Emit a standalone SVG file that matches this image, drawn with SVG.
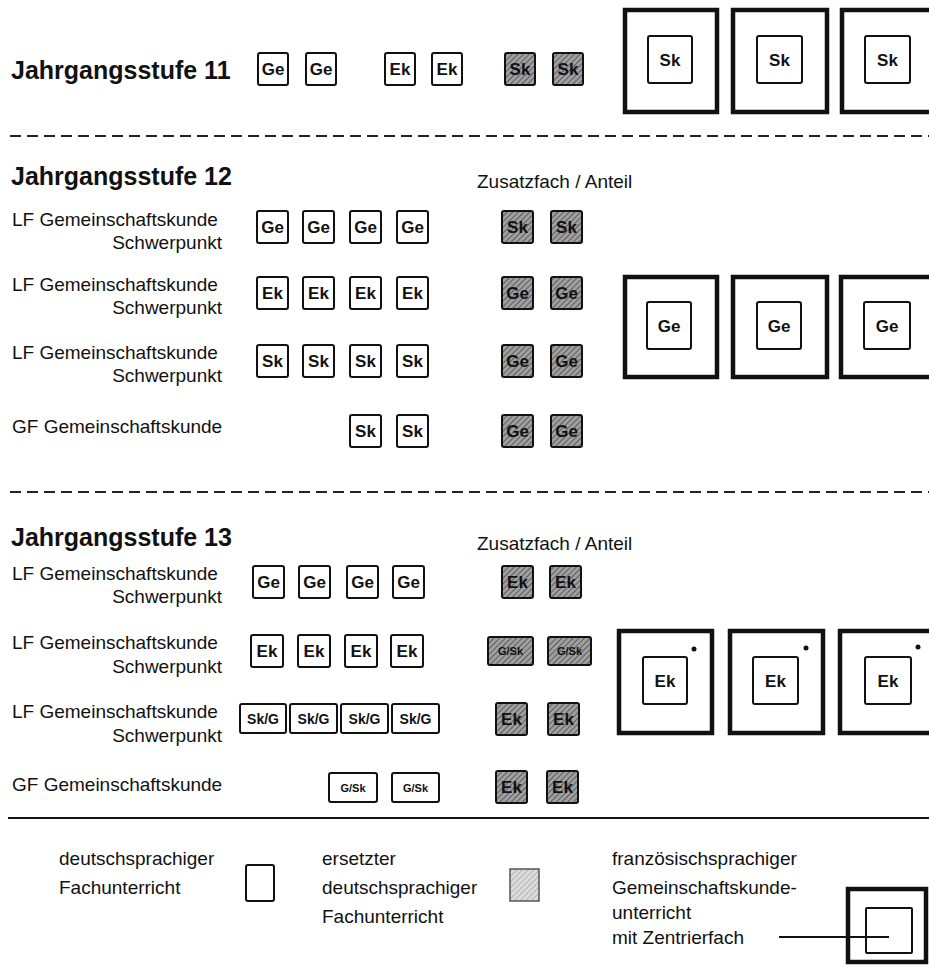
<svg xmlns="http://www.w3.org/2000/svg" width="929" height="978" viewBox="0 0 929 978">
<defs>
<pattern id="hatch" width="4" height="4" patternUnits="userSpaceOnUse" patternTransform="rotate(45)">
<rect width="4" height="4" fill="#a0a0a0"/>
<line x1="0" y1="0" x2="0" y2="4" stroke="#4a4a4a" stroke-width="1.6"/>
</pattern>
<pattern id="hatchL" width="4" height="4" patternUnits="userSpaceOnUse" patternTransform="rotate(45)">
<rect width="4" height="4" fill="#dcdcdc"/>
<line x1="0" y1="0" x2="0" y2="4" stroke="#999" stroke-width="1.2"/>
</pattern>
</defs>
<style>
.t{font-family:"Liberation Sans",Arial,sans-serif;fill:#111}
.h{font-size:25px;font-weight:bold}
.l{font-size:19px}
.r{text-anchor:end}
.b{font-size:17px;font-weight:bold;text-anchor:middle}
.s{font-size:14px;font-weight:bold;text-anchor:middle}
.xs{font-size:11px;font-weight:bold;text-anchor:middle}
.box{fill:#fff;stroke:#111;stroke-width:2}
.g{fill:url(#hatch);stroke:#111;stroke-width:2}
.big{fill:#fff;stroke:#111;stroke-width:4.5}
.in{fill:#fff;stroke:#111;stroke-width:2}
.dash{stroke:#222;stroke-width:2;stroke-dasharray:11 6;fill:none}
.line{stroke:#111;stroke-width:2;fill:none}
</style>
<rect width="929" height="978" fill="#fff"/>

<!-- Jahrgangsstufe 11 -->
<text class="t h" x="11" y="79">Jahrgangsstufe 11</text>
<g id="j11-ge1"><rect class="box" x="258" y="53" width="30" height="32" rx="2"/><text class="t b" x="273" y="75">Ge</text></g>
<g id="j11-ge2"><rect class="box" x="306" y="53" width="30" height="32" rx="2"/><text class="t b" x="321" y="75">Ge</text></g>
<g id="j11-ek1"><rect class="box" x="385" y="53" width="30" height="32" rx="2"/><text class="t b" x="400" y="75">Ek</text></g>
<g id="j11-ek2"><rect class="box" x="432" y="53" width="30" height="32" rx="2"/><text class="t b" x="447" y="75">Ek</text></g>
<g id="j11-sk1"><rect class="g" x="505" y="53" width="30" height="32" rx="2"/><text class="t b" x="520" y="75">Sk</text></g>
<g id="j11-sk2"><rect class="g" x="553" y="53" width="30" height="32" rx="2"/><text class="t b" x="568" y="75">Sk</text></g>
<g id="j11-big1"><rect class="big" x="625" y="10" width="92" height="102"/><rect class="in" x="648" y="36" width="44" height="47" rx="2"/><text class="t b" x="670" y="65.5">Sk</text></g>
<g id="j11-big2"><rect class="big" x="733" y="10" width="94" height="102"/><rect class="in" x="757" y="36" width="45" height="47" rx="2"/><text class="t b" x="779.5" y="65.5">Sk</text></g>
<g id="j11-big3"><rect class="big" x="842" y="10" width="94" height="102"/><rect class="in" x="865" y="36" width="45" height="47" rx="2"/><text class="t b" x="887.5" y="65.5">Sk</text></g>

<line class="dash" x1="10" y1="136" x2="929" y2="136"/>

<!-- Jahrgangsstufe 12 -->
<text class="t h" x="11" y="185">Jahrgangsstufe 12</text>
<text class="t l" x="477" y="188">Zusatzfach / Anteil</text>

<text class="t l" x="12" y="226">LF Gemeinschaftskunde</text>
<text class="t l r" x="222" y="249">Schwerpunkt</text>
<g id="j12-r1-1"><rect class="box" x="257" y="211" width="31" height="32" rx="2"/><text class="t b" x="272.5" y="233">Ge</text></g>
<g id="j12-r1-2"><rect class="box" x="303" y="211" width="31" height="32" rx="2"/><text class="t b" x="318.5" y="233">Ge</text></g>
<g id="j12-r1-3"><rect class="box" x="350" y="211" width="31" height="32" rx="2"/><text class="t b" x="365.5" y="233">Ge</text></g>
<g id="j12-r1-4"><rect class="box" x="397" y="211" width="31" height="32" rx="2"/><text class="t b" x="412.5" y="233">Ge</text></g>
<g id="j12-r1-g1"><rect class="g" x="502" y="211" width="31" height="32" rx="2"/><text class="t b" x="517.5" y="233">Sk</text></g>
<g id="j12-r1-g2"><rect class="g" x="551" y="211" width="31" height="32" rx="2"/><text class="t b" x="566.5" y="233">Sk</text></g>

<text class="t l" x="12" y="291">LF Gemeinschaftskunde</text>
<text class="t l r" x="222" y="314">Schwerpunkt</text>
<g id="j12-r2-1"><rect class="box" x="257" y="277" width="31" height="32" rx="2"/><text class="t b" x="272.5" y="299">Ek</text></g>
<g id="j12-r2-2"><rect class="box" x="303" y="277" width="31" height="32" rx="2"/><text class="t b" x="318.5" y="299">Ek</text></g>
<g id="j12-r2-3"><rect class="box" x="350" y="277" width="31" height="32" rx="2"/><text class="t b" x="365.5" y="299">Ek</text></g>
<g id="j12-r2-4"><rect class="box" x="397" y="277" width="31" height="32" rx="2"/><text class="t b" x="412.5" y="299">Ek</text></g>
<g id="j12-r2-g1"><rect class="g" x="502" y="277" width="31" height="32" rx="2"/><text class="t b" x="517.5" y="299">Ge</text></g>
<g id="j12-r2-g2"><rect class="g" x="551" y="277" width="31" height="32" rx="2"/><text class="t b" x="566.5" y="299">Ge</text></g>

<text class="t l" x="12" y="359">LF Gemeinschaftskunde</text>
<text class="t l r" x="222" y="382">Schwerpunkt</text>
<g id="j12-r3-1"><rect class="box" x="257" y="345" width="31" height="32" rx="2"/><text class="t b" x="272.5" y="367">Sk</text></g>
<g id="j12-r3-2"><rect class="box" x="303" y="345" width="31" height="32" rx="2"/><text class="t b" x="318.5" y="367">Sk</text></g>
<g id="j12-r3-3"><rect class="box" x="350" y="345" width="31" height="32" rx="2"/><text class="t b" x="365.5" y="367">Sk</text></g>
<g id="j12-r3-4"><rect class="box" x="397" y="345" width="31" height="32" rx="2"/><text class="t b" x="412.5" y="367">Sk</text></g>
<g id="j12-r3-g1"><rect class="g" x="502" y="345" width="31" height="32" rx="2"/><text class="t b" x="517.5" y="367">Ge</text></g>
<g id="j12-r3-g2"><rect class="g" x="551" y="345" width="31" height="32" rx="2"/><text class="t b" x="566.5" y="367">Ge</text></g>

<text class="t l" x="12" y="433">GF Gemeinschaftskunde</text>
<g id="j12-gf-1"><rect class="box" x="350" y="415" width="31" height="32" rx="2"/><text class="t b" x="365.5" y="437">Sk</text></g>
<g id="j12-gf-2"><rect class="box" x="397" y="415" width="31" height="32" rx="2"/><text class="t b" x="412.5" y="437">Sk</text></g>
<g id="j12-gf-g1"><rect class="g" x="502" y="415" width="31" height="32" rx="2"/><text class="t b" x="517.5" y="437">Ge</text></g>
<g id="j12-gf-g2"><rect class="g" x="551" y="415" width="31" height="32" rx="2"/><text class="t b" x="566.5" y="437">Ge</text></g>

<g id="j12-big1"><rect class="big" x="625" y="277" width="92" height="100"/><rect class="in" x="647" y="302" width="44" height="47" rx="2"/><text class="t b" x="669" y="331.5">Ge</text></g>
<g id="j12-big2"><rect class="big" x="733" y="277" width="94" height="100"/><rect class="in" x="757" y="302" width="44" height="47" rx="2"/><text class="t b" x="779" y="331.5">Ge</text></g>
<g id="j12-big3"><rect class="big" x="841" y="277" width="95" height="100"/><rect class="in" x="864" y="302" width="46" height="47" rx="2"/><text class="t b" x="887" y="331.5">Ge</text></g>

<line class="dash" x1="10" y1="492" x2="929" y2="492"/>

<!-- Jahrgangsstufe 13 -->
<text class="t h" x="11" y="546">Jahrgangsstufe 13</text>
<text class="t l" x="477" y="550">Zusatzfach / Anteil</text>

<text class="t l" x="12" y="580">LF Gemeinschaftskunde</text>
<text class="t l r" x="222" y="603">Schwerpunkt</text>
<g id="j13-r1-1"><rect class="box" x="253" y="566" width="31" height="32" rx="2"/><text class="t b" x="268.5" y="588">Ge</text></g>
<g id="j13-r1-2"><rect class="box" x="299" y="566" width="31" height="32" rx="2"/><text class="t b" x="314.5" y="588">Ge</text></g>
<g id="j13-r1-3"><rect class="box" x="347" y="566" width="31" height="32" rx="2"/><text class="t b" x="362.5" y="588">Ge</text></g>
<g id="j13-r1-4"><rect class="box" x="393" y="566" width="31" height="32" rx="2"/><text class="t b" x="408.5" y="588">Ge</text></g>
<g id="j13-r1-g1"><rect class="g" x="502" y="566" width="31" height="32" rx="2"/><text class="t b" x="517.5" y="588">Ek</text></g>
<g id="j13-r1-g2"><rect class="g" x="550" y="566" width="31" height="32" rx="2"/><text class="t b" x="565.5" y="588">Ek</text></g>

<text class="t l" x="12" y="649">LF Gemeinschaftskunde</text>
<text class="t l r" x="222" y="673">Schwerpunkt</text>
<g id="j13-r2-1"><rect class="box" x="251" y="635" width="32" height="32" rx="2"/><text class="t b" x="267" y="657">Ek</text></g>
<g id="j13-r2-2"><rect class="box" x="298" y="635" width="32" height="32" rx="2"/><text class="t b" x="314" y="657">Ek</text></g>
<g id="j13-r2-3"><rect class="box" x="345" y="635" width="32" height="32" rx="2"/><text class="t b" x="361" y="657">Ek</text></g>
<g id="j13-r2-4"><rect class="box" x="391" y="635" width="32" height="32" rx="2"/><text class="t b" x="407" y="657">Ek</text></g>
<g id="j13-r2-g1"><rect class="g" x="488" y="637" width="45" height="28" rx="2"/><text class="t xs" x="510.5" y="655">G/Sk</text></g>
<g id="j13-r2-g2"><rect class="g" x="548" y="637" width="43" height="28" rx="2"/><text class="t xs" x="569.5" y="655">G/Sk</text></g>

<text class="t l" x="12" y="718">LF Gemeinschaftskunde</text>
<text class="t l r" x="222" y="742">Schwerpunkt</text>
<g id="j13-r3-1"><rect class="box" x="240" y="704" width="46" height="29" rx="2"/><text class="t s" x="263" y="723.5">Sk/G</text></g>
<g id="j13-r3-2"><rect class="box" x="290" y="704" width="47" height="29" rx="2"/><text class="t s" x="313.5" y="723.5">Sk/G</text></g>
<g id="j13-r3-3"><rect class="box" x="341" y="704" width="47" height="29" rx="2"/><text class="t s" x="364.5" y="723.5">Sk/G</text></g>
<g id="j13-r3-4"><rect class="box" x="392" y="704" width="47" height="29" rx="2"/><text class="t s" x="415.5" y="723.5">Sk/G</text></g>
<g id="j13-r3-g1"><rect class="g" x="496" y="703" width="31" height="32" rx="2"/><text class="t b" x="511.5" y="725">Ek</text></g>
<g id="j13-r3-g2"><rect class="g" x="548" y="703" width="31" height="32" rx="2"/><text class="t b" x="563.5" y="725">Ek</text></g>

<text class="t l" x="12" y="791">GF Gemeinschaftskunde</text>
<g id="j13-gf-1"><rect class="box" x="329" y="773" width="48" height="29" rx="2"/><text class="t xs" x="353" y="791.5">G/Sk</text></g>
<g id="j13-gf-2"><rect class="box" x="392" y="773" width="47" height="29" rx="2"/><text class="t xs" x="415.5" y="791.5">G/Sk</text></g>
<g id="j13-gf-g1"><rect class="g" x="496" y="771" width="31" height="32" rx="2"/><text class="t b" x="511.5" y="793">Ek</text></g>
<g id="j13-gf-g2"><rect class="g" x="547" y="771" width="31" height="32" rx="2"/><text class="t b" x="562.5" y="793">Ek</text></g>

<g id="j13-big1"><rect class="big" x="619" y="631" width="93" height="102"/><rect class="in" x="643" y="657" width="44" height="47" rx="2"/><text class="t b" x="665" y="686.5">Ek</text><circle cx="694" cy="649" r="2.5" fill="#111"/></g>
<g id="j13-big2"><rect class="big" x="730" y="631" width="93" height="102"/><rect class="in" x="753" y="657" width="45" height="47" rx="2"/><text class="t b" x="775.5" y="686.5">Ek</text><circle cx="806" cy="648" r="2.5" fill="#111"/></g>
<g id="j13-big3"><rect class="big" x="840" y="631" width="96" height="102"/><rect class="in" x="865" y="657" width="46" height="47" rx="2"/><text class="t b" x="888" y="686.5">Ek</text><circle cx="918" cy="647" r="2.5" fill="#111"/></g>

<line class="line" x1="8" y1="818" x2="929" y2="818"/>

<!-- Legend -->
<g id="legend-de">
<text class="t l" x="59" y="865">deutschsprachiger</text>
<text class="t l" x="59" y="894">Fachunterricht</text>
<rect class="box" x="246" y="865" width="28" height="36" rx="2"/>
</g>
<g id="legend-ersetzt">
<text class="t l" x="322" y="865">ersetzter</text>
<text class="t l" x="322" y="894">deutschsprachiger</text>
<text class="t l" x="322" y="923">Fachunterricht</text>
<rect x="510" y="869" width="29" height="32" fill="url(#hatchL)" stroke="#555" stroke-width="1.5"/>
</g>
<g id="legend-fr">
<text class="t l" x="612" y="865">französischsprachiger</text>
<text class="t l" x="612" y="894">Gemeinschaftskunde-</text>
<text class="t l" x="612" y="919">unterricht</text>
<text class="t l" x="612" y="944">mit Zentrierfach</text>
<rect class="big" x="848" y="889" width="78" height="73"/>
<rect class="in" x="866" y="908" width="46" height="45" rx="1"/>
</g>
<g id="connectors">
<line class="line" x1="779" y1="937" x2="889" y2="937"/>
</g>
</svg>
